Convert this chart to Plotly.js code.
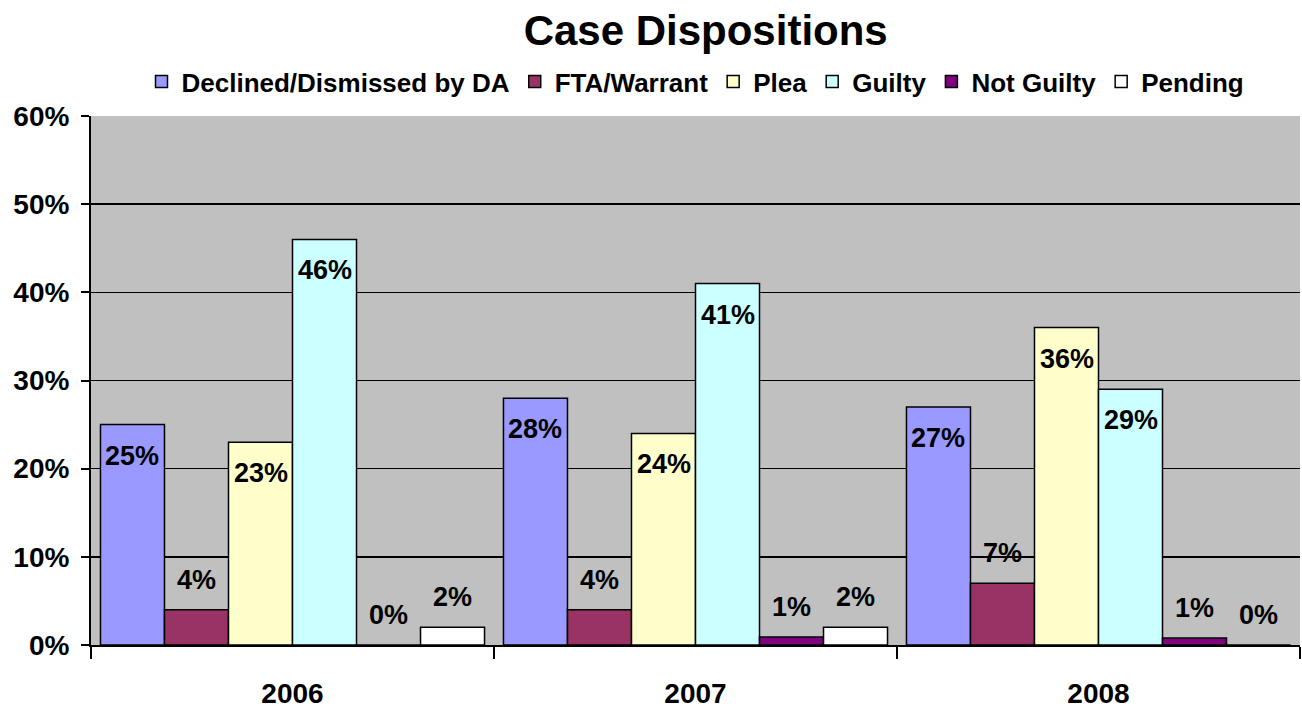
<!DOCTYPE html>
<html><head><meta charset="utf-8">
<script src="https://cdn.plot.ly/plotly-3.0.1.min.js"></script>
<style>html,body{margin:0;padding:0;background:#fff}#chart{width:1302px;height:711px}</style>
</head><body><div id="chart"></div>
<script>
const years = ['2006', '2007', '2008'];
const seriesNames = ['Declined/Dismissed by DA', 'FTA/Warrant', 'Plea', 'Guilty', 'Not Guilty', 'Pending'];
const declined = [0.25, 0.28, 0.27];
const fta = [0.04, 0.04, 0.07];
const plea = [0.23, 0.24, 0.36];
const guilty = [0.46, 0.41, 0.29];
const notGuilty = [0.0, 0.009, 0.008];
const pending = [0.02, 0.02, 0.0];
const colors = ['#9999FF', '#993366', '#FFFFCC', '#CCFFFF', '#800080', '#FFFFFF'];

const allSeries = [declined, fta, plea, guilty, notGuilty, pending];
const FONT = 'Liberation Sans, Arial, sans-serif';
const bargap = 0.047;

const traces = allSeries.map((vals, i) => ({
  type: 'bar', name: seriesNames[i], x: years, y: vals,
  marker: {color: colors[i], line: {color: '#000', width: 1.5}},
  hoverinfo: 'none'
}));

const annotations = [];
const n = allSeries.length;
const bw = (1 - bargap) / n;
allSeries.forEach((vals, i) => {
  vals.forEach((v, g) => {
    annotations.push({
      xref: 'x', yref: 'y',
      x: g - (1 - bargap) / 2 + (i + 0.5) * bw,
      y: v,
      text: Math.round(v * 100) + '%',
      showarrow: false,
      yshift: v >= 0.15 ? -31 : 30,
      font: {family: FONT, size: 27, color: '#000', weight: 'bold'}
    });
  });
});

const layout = {
  width: 1302, height: 711,
  margin: {l: 91, r: 2, t: 116, b: 66},
  paper_bgcolor: '#fff', plot_bgcolor: '#C0C0C0',
  barmode: 'group', bargap: bargap, bargroupgap: 0,
  font: {family: FONT, color: '#000'},
  title: {text: '<b>Case Dispositions</b>', x: 0.542, xanchor: 'center', y: 0.958, yanchor: 'middle',
          font: {family: FONT, size: 42, color: '#000'}},
  showlegend: true,
  legend: {orientation: 'h', x: 0.5, xanchor: 'center', y: 1.065, yanchor: 'middle',
           font: {family: FONT, size: 26, color: '#000', weight: 'bold'},
           itemwidth: 30, traceorder: 'normal', bgcolor: 'rgba(0,0,0,0)'},
  xaxis: {type: 'category', tickson: 'boundaries', ticks: 'outside', ticklen: 12, tickcolor: '#000', tickwidth: 1.5,
          showline: true, linecolor: '#000', linewidth: 2, showgrid: false, ticklabelstandoff: 22,
          tickfont: {family: FONT, size: 28, color: '#000', weight: 'bold'}, fixedrange: true},
  yaxis: {range: [0, 0.6], dtick: 0.1, tickformat: '.0%', ticks: 'outside', ticklen: 8, tickcolor: '#000', tickwidth: 2,
          showline: true, linecolor: '#000', linewidth: 2, showgrid: true, gridcolor: '#000', gridwidth: 1.5,
          zeroline: false, ticklabelstandoff: 6,
          tickfont: {family: FONT, size: 28, color: '#000', weight: 'bold'}, fixedrange: true},
  annotations: annotations
};

Plotly.newPlot('chart', traces, layout, {displayModeBar: false, staticPlot: true});
</script></body></html>
